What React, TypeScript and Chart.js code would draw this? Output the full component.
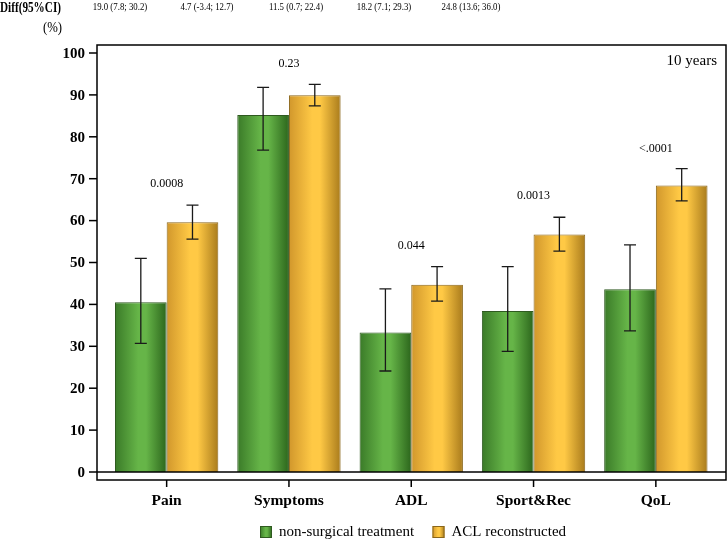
import React, { useEffect, useRef } from "react";
import { Chart, registerables } from "chart.js";

Chart.register(...registerables);

// ---------- data ----------
const categories = ["Pain", "Symptoms", "ADL", "Sport&Rec", "QoL"];
const nonSurgical = [40.5, 85.2, 33.3, 38.4, 43.6];
const nonSurgicalLow = [30.7, 76.8, 24.1, 28.8, 33.7];
const nonSurgicalHigh = [51.0, 91.8, 43.7, 49.0, 54.2];
const aclReconstructed = [59.6, 89.9, 44.7, 56.7, 68.4];
const aclLow = [55.6, 87.4, 40.8, 52.7, 64.7];
const aclHigh = [63.7, 92.5, 49.0, 60.8, 72.4];
const pValues = ["0.0008", "0.23", "0.044", "0.0013", "<.0001"];
const pValueLevels = [68.7, 97.5, 54.0, 65.9, 77.2];
const diffLabels = [
  "19.0 (7.8; 30.2)",
  "4.7 (-3.4; 12.7)",
  "11.5 (0.7; 22.4)",
  "18.2 (7.1; 29.3)",
  "24.8 (13.6; 36.0)",
];
const yTicks = [0, 10, 20, 30, 40, 50, 60, 70, 80, 90, 100];
const seriesNames = ["non-surgical treatment", "ACL reconstructed"];

// ---------- styling ----------
const FONT = "'Liberation Serif', 'Times New Roman', serif";
const CAT_PCT = 0.845;
const PALETTE = [
  { d1: "#3a7a28", mid: "#66b548", d2: "#2c661c", border: "#2f5a20" },
  { d1: "#d1972c", mid: "#ffc945", d2: "#a97b1c", border: "#8a661a" },
];
const diffX = [120, 207, 296, 384, 471];

function makeGrad(ctx: CanvasRenderingContext2D, left: number, w: number, p: any) {
  const g = ctx.createLinearGradient(left, 0, left + w, 0);
  g.addColorStop(0, p.d1);
  g.addColorStop(0.45, p.mid);
  g.addColorStop(0.6, p.mid);
  g.addColorStop(1, p.d2);
  return g;
}

function barFill(c: any) {
  const chart = c.chart;
  const p = PALETTE[c.datasetIndex] || PALETTE[0];
  const area = chart.chartArea;
  if (!area || c.type !== "data") return p.mid;
  const xs = chart.scales.x;
  const center = xs.getPixelForValue(c.dataIndex);
  const w = (xs.width / categories.length) * CAT_PCT / 2;
  const left = c.datasetIndex === 0 ? center - w : center;
  return makeGrad(chart.ctx, left, w, p);
}

const overlayPlugin = {
  id: "overlay",
  afterDatasetsDraw(chart: any) {
    const { ctx, chartArea, scales } = chart;
    const ys = scales.y;
    const xs = scales.x;
    const fl = chartArea.left - 8.5;
    const fr = chartArea.right + 9;
    const ft = chartArea.top - 8;
    const fb = chartArea.bottom + 8;

    ctx.save();
    // error bars
    const lows = [nonSurgicalLow, aclLow];
    const highs = [nonSurgicalHigh, aclHigh];
    ctx.strokeStyle = "#1a1a1a";
    ctx.lineWidth = 1.3;
    for (let d = 0; d < 2; d++) {
      const meta = chart.getDatasetMeta(d);
      meta.data.forEach((el: any, i: number) => {
        const x = el.x;
        const yl = ys.getPixelForValue(lows[d][i]);
        const yh = ys.getPixelForValue(highs[d][i]);
        ctx.beginPath();
        ctx.moveTo(x, yl);
        ctx.lineTo(x, yh);
        ctx.moveTo(x - 6, yl);
        ctx.lineTo(x + 6, yl);
        ctx.moveTo(x - 6, yh);
        ctx.lineTo(x + 6, yh);
        ctx.stroke();
      });
    }

    // frame
    ctx.strokeStyle = "#000";
    ctx.lineWidth = 1.5;
    ctx.strokeRect(fl, ft, fr - fl, fb - ft);
    // zero line
    const y0 = ys.getPixelForValue(0);
    ctx.beginPath();
    ctx.moveTo(fl, y0);
    ctx.lineTo(fr, y0);
    ctx.stroke();

    // y ticks
    ctx.fillStyle = "#000";
    ctx.font = `bold 15px ${FONT}`;
    ctx.textAlign = "right";
    ctx.textBaseline = "middle";
    yTicks.forEach((v) => {
      const y = ys.getPixelForValue(v);
      ctx.beginPath();
      ctx.moveTo(fl - 8, y);
      ctx.lineTo(fl, y);
      ctx.stroke();
      ctx.fillText(String(v), fl - 12, y + 1);
    });

    // x ticks and labels
    ctx.textAlign = "center";
    ctx.font = `bold 15.5px ${FONT}`;
    categories.forEach((c, i) => {
      const x = xs.getPixelForValue(i);
      ctx.beginPath();
      ctx.moveTo(x, fb);
      ctx.lineTo(x, fb + 7);
      ctx.stroke();
      ctx.fillText(c, x, fb + 21);
    });

    // p values
    ctx.font = `12px ${FONT}`;
    pValues.forEach((p, i) => {
      const x = xs.getPixelForValue(i);
      ctx.fillText(p, x, ys.getPixelForValue(pValueLevels[i]));
    });

    // 10 years
    ctx.font = `15px ${FONT}`;
    ctx.textAlign = "right";
    ctx.fillText("10 years", fr - 9, ft + 16);

    // top header
    ctx.textAlign = "right";
    ctx.save();
    ctx.translate(61, 8);
    ctx.scale(0.8, 1);
    ctx.font = `bold 14px ${FONT}`;
    ctx.fillText("Diff(95%CI)", 0, 0);
    ctx.restore();

    ctx.save();
    ctx.translate(62, 28);
    ctx.scale(0.85, 1);
    ctx.font = `15px ${FONT}`;
    ctx.fillText("(%)", 0, 0);
    ctx.restore();

    ctx.textAlign = "center";
    diffLabels.forEach((t, i) => {
      ctx.save();
      ctx.translate(diffX[i], 7);
      ctx.scale(0.8, 1);
      ctx.font = `11px ${FONT}`;
      ctx.fillText(t, 0, 0);
      ctx.restore();
    });

    // legend
    const legendItems = [
      { x: 260, text: seriesNames[0], p: PALETTE[0] },
      { x: 432.5, text: seriesNames[1], p: PALETTE[1] },
    ];
    ctx.font = `15px ${FONT}`;
    ctx.textAlign = "left";
    legendItems.forEach((it) => {
      const sy = 526;
      ctx.fillStyle = makeGrad(ctx, it.x, 12, it.p);
      ctx.fillRect(it.x, sy, 12, 12);
      ctx.strokeStyle = it.p.border;
      ctx.lineWidth = 1;
      ctx.strokeRect(it.x + 0.5, sy + 0.5, 11, 11);
      ctx.fillStyle = "#000";
      ctx.fillText(it.text, it.x + 19, sy + 6.5);
    });
    ctx.restore();
  },
};

export default function App() {
  const ref = useRef<HTMLCanvasElement | null>(null);
  useEffect(() => {
    if (!ref.current) return;
    const chart = new Chart(ref.current, {
      type: "bar",
      data: {
        labels: categories,
        datasets: [
          {
            label: seriesNames[0],
            data: nonSurgical,
            backgroundColor: barFill as any,
            borderColor: PALETTE[0].border,
            borderWidth: 1,
            categoryPercentage: CAT_PCT,
            barPercentage: 1,
          },
          {
            label: seriesNames[1],
            data: aclReconstructed,
            backgroundColor: barFill as any,
            borderColor: PALETTE[1].border,
            borderWidth: 1,
            categoryPercentage: CAT_PCT,
            barPercentage: 1,
          },
        ],
      },
      options: {
        responsive: false,
        animation: false,
        devicePixelRatio: 1,
        layout: { padding: { left: 105.5, right: 10, top: 53, bottom: 67 } },
        scales: {
          x: { display: false },
          y: { display: false, min: 0, max: 100 },
        },
        plugins: {
          legend: { display: false },
          tooltip: { enabled: false },
        },
      },
      plugins: [overlayPlugin],
    });
    return () => chart.destroy();
  }, []);
  return (
    <div style={{ position: "fixed", left: 0, top: 0, width: 727, height: 539, background: "#fff" }}>
      <canvas ref={ref} width={727} height={539} style={{ display: "block" }} />
    </div>
  );
}
